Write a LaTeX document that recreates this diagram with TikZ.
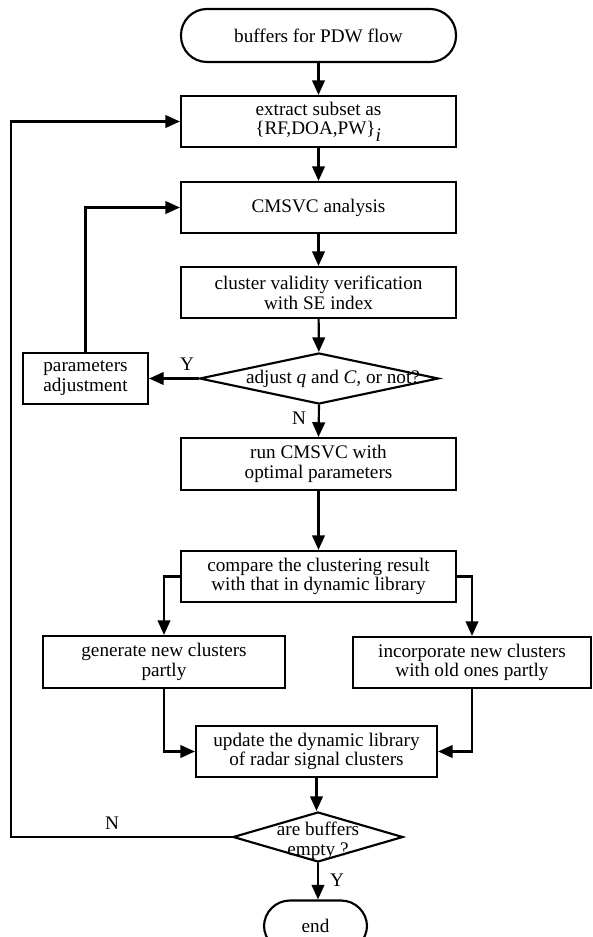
\documentclass[tikz,border=0pt]{standalone}
\usepackage{fontspec}
\setmainfont{Liberation Serif}
\usepackage{tikz}
\usetikzlibrary{arrows.meta, shapes.geometric}

\begin{document}
\begin{tikzpicture}[line cap=round,line join=miter,>={Triangle[length=11pt,width=9.5pt]},x=0.75pt,y=-0.75pt,
		every node/.style={font=\fontsize{14.4}{14.8}\selectfont, align=center},
		proc/.style={draw, line width=1.6pt, rectangle, inner sep=0pt, minimum width=206.25pt, minimum height=38.25pt},
		term/.style={draw, line width=1.6pt, rectangle, rounded corners=19.5pt, inner sep=0pt, minimum height=39.75pt},
		decide/.style={draw, line width=1.6pt, diamond, inner sep=0pt},
		link/.style={-{Triangle[length=11pt,width=9.5pt]}, line width=1.6pt}]
		\useasboundingbox (0,0) rectangle (592,937);
		\clip (0,0) rectangle (592,937);
		\node[term, minimum width=206.25pt] (start) at (318.5,35.5) {buffers for PDW flow};
		\node[proc] (extract) at (318.5,121.5) {extract subset as\\\{RF,DOA,PW\}$_{\textit{i}}$};
		\node[proc] (cmsvc) at (318.5,207.5) {CMSVC analysis};
		\node[proc] (validity) at (318.5,292.5) {cluster validity verification\\with SE index};
		\node[decide, minimum width=179.25pt, minimum height=38.25pt] (adjust) at (319,378.5) {};
		\node (adjusttext) at (333,379) {adjust \textit{q} and \textit{C,} or not?};
		\node[proc, minimum width=93.75pt] (param) at (85.5,378.5) {parameters\\adjustment};
		\node[proc, minimum height=39pt] (runopt) at (318.5,464) {run CMSVC with\\optimal parameters};
		\node[proc] (compare) at (318.5,576.5) {compare the clustering result\\with that in dynamic library};
		\node[proc, minimum width=181.5pt, minimum height=39pt] (generate) at (164,662) {generate new clusters\\partly};
		\node[proc, minimum width=178.5pt] (incorporate) at (472,662.5) {incorporate new clusters\\with old ones partly};
		\node[proc, minimum width=180.75pt] (update) at (316.5,751.5) {update the dynamic library\\of radar signal clusters};
		\node[decide, minimum width=127.5pt, minimum height=37.5pt] (empty) at (318,837) {};
		\node (emptytext) at (318,841) {are buffers\\empty ?};
		\node[term, minimum width=77.25pt, minimum height=38.25pt] (end) at (315.5,926) {end};
		\coordinate (loop) at (11,837);
		\draw[link] (start) -- (extract);
		\draw[link] (extract) -- (cmsvc);
		\draw[link] (cmsvc) -- (validity);
		\draw[link] (validity) -- (adjust);
		\draw[link] (adjust.west) -- (param.east);
		\draw[link] (param.north) |- (cmsvc.west);
		\draw[link] (adjust.south) -- (runopt.north);
		\draw[link] (runopt.south) -- (compare.north);
		\draw[link] (compare.west) -| (generate.north);
		\draw[link] (compare.east) -| (incorporate.north);
		\draw[link] (generate.south) |- (update.west);
		\draw[link] (incorporate.south) |- (update.east);
		\draw[link] (update.south) -- (update.south |- empty.north);
		\draw[link] (empty.west) -- (loop) |- (extract.west);
		\draw[link] (empty.south) -- (empty.south |- end.north);
		\node (ylabel) at (187,364) {Y};
		\node (nlabel) at (299,418) {N};
		\node (nloop) at (112,823) {N};
		\node (yend) at (337,880) {Y};
\end{tikzpicture}
\end{document}
